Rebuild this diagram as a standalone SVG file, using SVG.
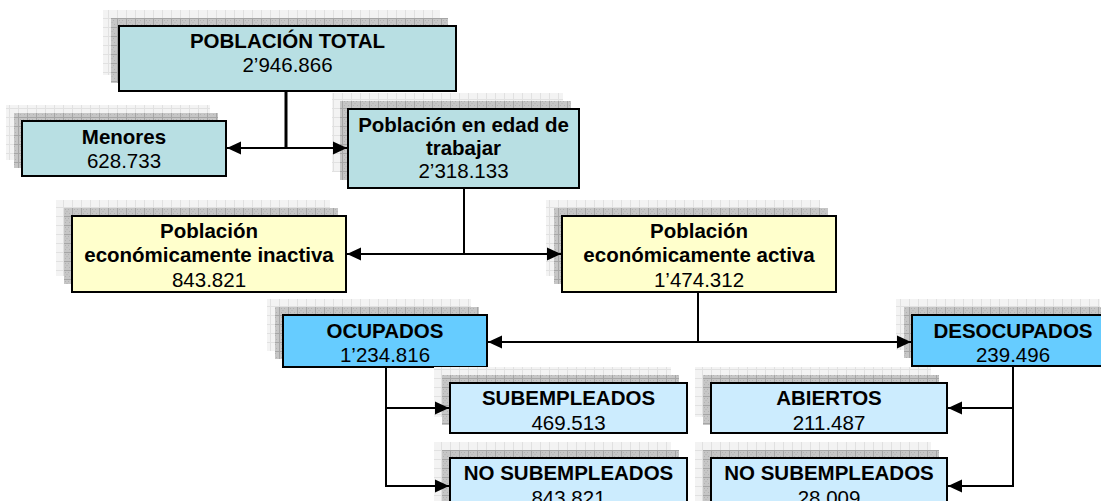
<svg xmlns="http://www.w3.org/2000/svg" width="1101" height="501" viewBox="0 0 1101 501">
<defs>
<pattern id="lt" width="9" height="9" patternUnits="userSpaceOnUse">
<rect width="9" height="9" fill="#f3f3f3"/>
<path d="M0,0.5H9M0.5,0V9" stroke="#e1e1e1" stroke-width="1"/>
</pattern>
<pattern id="dk" width="9" height="9" patternUnits="userSpaceOnUse">
<rect width="9" height="9" fill="#c6c6c6"/>
<path d="M2,2h1v1h-1zM5,2h1v1h-1zM3.5,4h1v1h-1zM2,6h1v1h-1zM6,6h1v1h-1z" fill="#b2b2b2"/>
<path d="M0,0.5H9M0.5,0V9" stroke="#a6a6a6" stroke-width="1"/>
</pattern>
<marker id="ah" markerUnits="userSpaceOnUse" markerWidth="14" markerHeight="14" refX="14" refY="7" orient="auto">
<path d="M0,0.5 L14,7 L0,13.5 z" fill="#000"/>
</marker>
<style>
.sl{fill:url(#lt)}
.sd{fill:url(#dk)}
.b{stroke:#000;stroke-width:2}
.teal{fill:#b8dfe3}
.yel{fill:#ffffcc}
.blu{fill:#66ccff}
.lbl{fill:#ccecfe}
text{font-family:"Liberation Sans",Arial,sans-serif;font-size:20.5px;text-anchor:middle;fill:#000}
.t{font-weight:bold}
.c{fill:none;stroke:#000;stroke-width:2}
</style>
</defs>

<g id="poblacion-total">
<rect class="sl" x="103" y="10" width="337" height="65"/>
<rect class="sd" x="111" y="18" width="337" height="65"/>
<rect class="teal b" x="119" y="26" width="337" height="65"/>
<text class="t" x="287.5" y="48">POBLACIÓN TOTAL</text>
<text x="287.5" y="72">2’946.866</text>
</g>

<g id="menores">
<rect class="sl" x="6" y="105" width="204" height="55"/>
<rect class="sd" x="14" y="113" width="204" height="55"/>
<rect class="teal b" x="22" y="121" width="204" height="55"/>
<text class="t" x="124" y="144">Menores</text>
<text x="124" y="168">628.733</text>
</g>

<g id="edad-trabajar">
<rect class="sl" x="332" y="93" width="231" height="79"/>
<rect class="sd" x="340" y="101" width="231" height="79"/>
<rect class="teal b" x="348" y="109" width="231" height="79"/>
<text class="t" x="463.5" y="132">Población en edad de</text>
<text class="t" x="463.5" y="155">trabajar</text>
<text x="463.5" y="178">2’318.133</text>
</g>

<g id="inactiva">
<rect class="sl" x="56" y="200" width="274" height="76"/>
<rect class="sd" x="64" y="208" width="274" height="76"/>
<rect class="yel b" x="72" y="216" width="274" height="76"/>
<text class="t" x="209" y="238">Población</text>
<text class="t" x="209" y="262">económicamente inactiva</text>
<text x="209" y="287">843.821</text>
</g>

<g id="activa">
<rect class="sl" x="546" y="200" width="274" height="76"/>
<rect class="sd" x="554" y="208" width="274" height="76"/>
<rect class="yel b" x="562" y="216" width="274" height="76"/>
<text class="t" x="699" y="238">Población</text>
<text class="t" x="699" y="262">económicamente activa</text>
<text x="699" y="287">1’474.312</text>
</g>

<g id="ocupados">
<rect class="sl" x="267" y="299" width="204" height="52"/>
<rect class="sd" x="275" y="307" width="204" height="52"/>
<rect class="blu b" x="283" y="315" width="204" height="52"/>
<text class="t" x="385" y="338">OCUPADOS</text>
<text x="385" y="362">1’234.816</text>
</g>

<g id="desocupados">
<rect class="sl" x="896" y="299" width="204" height="51"/>
<rect class="sd" x="904" y="307" width="204" height="51"/>
<rect class="blu b" x="912" y="315" width="204" height="51"/>
<text class="t" x="1013" y="338">DESOCUPADOS</text>
<text x="1013" y="362">239.496</text>
</g>

<g id="subempleados">
<rect class="sl" x="434" y="367" width="237" height="50"/>
<rect class="sd" x="442" y="375" width="237" height="50"/>
<rect class="lbl b" x="450" y="383" width="237" height="50"/>
<text class="t" x="568.5" y="405">SUBEMPLEADOS</text>
<text x="568.5" y="430">469.513</text>
</g>

<g id="no-subempleados-ocupados">
<rect class="sl" x="434" y="442" width="237" height="60"/>
<rect class="sd" x="442" y="450" width="237" height="60"/>
<rect class="lbl b" x="450" y="458" width="237" height="60"/>
<text class="t" x="568.5" y="480">NO SUBEMPLEADOS</text>
<text x="568.5" y="505">843.821</text>
</g>

<g id="abiertos">
<rect class="sl" x="695" y="367" width="236" height="50"/>
<rect class="sd" x="703" y="375" width="236" height="50"/>
<rect class="lbl b" x="711" y="383" width="236" height="50"/>
<text class="t" x="829" y="405">ABIERTOS</text>
<text x="829" y="430">211.487</text>
</g>

<g id="no-subempleados-desocupados">
<rect class="sl" x="695" y="442" width="236" height="60"/>
<rect class="sd" x="703" y="450" width="236" height="60"/>
<rect class="lbl b" x="711" y="458" width="236" height="60"/>
<text class="t" x="829" y="480">NO SUBEMPLEADOS</text>
<text x="829" y="505">28.009</text>
</g>

<g id="connectors">
<path class="c" d="M286,91V148" style="stroke-width:3"/>
<path class="c" d="M287,148H227" marker-end="url(#ah)"/>
<path class="c" d="M285,148H347" marker-end="url(#ah)"/>
<path class="c" d="M464,188V254"/>
<path class="c" d="M465,254H347" marker-end="url(#ah)"/>
<path class="c" d="M463,254H561" marker-end="url(#ah)"/>
<path class="c" d="M698,292V342"/>
<path class="c" d="M699,342H488" marker-end="url(#ah)"/>
<path class="c" d="M697,342H911" marker-end="url(#ah)"/>
<path class="c" d="M386,367V487"/>
<path class="c" d="M385,408H449" marker-end="url(#ah)"/>
<path class="c" d="M385,486H449" marker-end="url(#ah)"/>
<path class="c" d="M1013,366V487"/>
<path class="c" d="M1014,408H948" marker-end="url(#ah)"/>
<path class="c" d="M1014,486H948" marker-end="url(#ah)"/>
</g>
</svg>
